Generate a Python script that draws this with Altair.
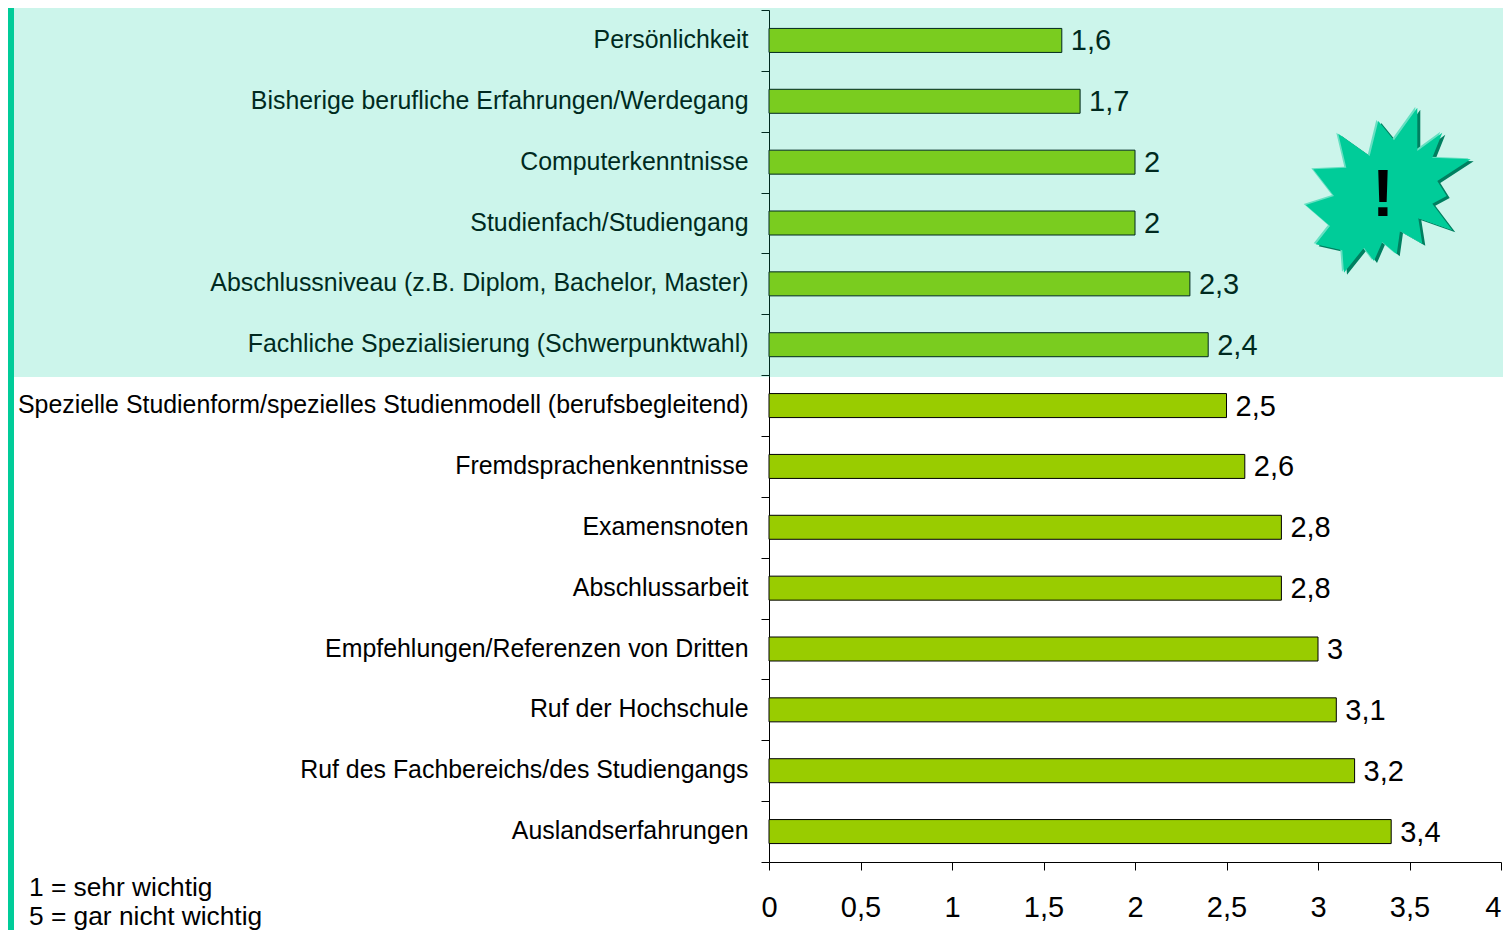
import altair as alt
import pandas as pd

categories = [
    "Persönlichkeit",
    "Bisherige berufliche Erfahrungen/Werdegang",
    "Computerkenntnisse",
    "Studienfach/Studiengang",
    "Abschlussniveau (z.B. Diplom, Bachelor, Master)",
    "Fachliche Spezialisierung (Schwerpunktwahl)",
    "Spezielle Studienform/spezielles Studienmodell (berufsbegleitend)",
    "Fremdsprachenkenntnisse",
    "Examensnoten",
    "Abschlussarbeit",
    "Empfehlungen/Referenzen von Dritten",
    "Ruf der Hochschule",
    "Ruf des Fachbereichs/des Studiengangs",
    "Auslandserfahrungen",
]
values = [1.6, 1.7, 2, 2, 2.3, 2.4, 2.5, 2.6, 2.8, 2.8, 3, 3.1, 3.2, 3.4]
x_ticks = [0, 0.5, 1, 1.5, 2, 2.5, 3, 3.5, 4]
notes = ["1 = sehr wichtig", "5 = gar nicht wichtig"]

FONT = "Liberation Sans"
GREEN = "#99CC00"
TEAL = "#00CC99"

# outline of the decorative star, relative to its centre
star_outline = [
    (178, 128), (272, 195), (298, 90), (345, 148), (415, 50), (415, 180), (490, 125),
    (460, 200), (575, 205), (475, 270), (503, 315), (460, 338), (520, 418), (418, 382),
    (430, 458), (363, 420), (353, 490), (310, 453), (285, 510), (255, 470), (195, 545),
    (190, 478), (110, 460), (153, 405), (80, 342), (165, 315), (103, 235), (202, 230),
]
star_path = "M" + "L".join(
    f"{(a - 330) / 3:.1f},{(b - 300) / 3:.1f}" for a, b in star_outline
) + "Z"

df = pd.DataFrame({
    "cat": categories,
    "val": values,
    "label": [str(v).replace(".", ",") for v in values],
})
one = pd.DataFrame({"a": [0]})

y_enc = alt.Y(
    "cat:N", sort=categories, title=None,
    scale=alt.Scale(paddingInner=0, paddingOuter=0),
    axis=alt.Axis(
        tickBand="extent", tickSize=8, tickColor="#000000", domainColor="#000000",
        labelFont=FONT, labelFontSize=24.9, labelColor="#000000", labelPadding=13,
        labelLimit=800, labelOverlap=False, grid=False,
    ),
)
x_enc = alt.X(
    "val:Q", title=None,
    scale=alt.Scale(domain=[0, 4], nice=False),
    axis=alt.Axis(
        values=x_ticks, tickSize=8, tickColor="#000000", domainColor="#000000",
        labelFont=FONT, labelFontSize=29, labelColor="#000000", labelPadding=23,
        labelFlush=False, labelOverlap=False, grid=False,
        labelAlign={"condition": {"test": "datum.value == 4", "value": "right"}, "value": "center"},
        labelExpr="replace(toString(datum.value), '.', ',')",
    ),
)

bars = alt.Chart(df).mark_bar(size=24, color=GREEN, stroke="#000000", strokeWidth=1).encode(x=x_enc, y=y_enc)
value_labels = alt.Chart(df).mark_text(
    align="left", baseline="middle", dx=9, dy=1, font=FONT, fontSize=29, color="#000000"
).encode(
    x=alt.X("val:Q", scale=alt.Scale(domain=[0, 4], nice=False)),
    y=alt.Y("cat:N", sort=categories),
    text="label:N",
)

overlay = alt.Chart(one).mark_rect(color=TEAL, opacity=0.2).encode(
    x=alt.value(-761), x2=alt.value(734), y=alt.value(-2), y2=alt.value(367)
)
strip = alt.Chart(one).mark_rect(color=TEAL).encode(
    x=alt.value(-761), x2=alt.value(-755), y=alt.value(-2), y2=alt.value(920)
)


def star(color, dx, dy):
    return alt.Chart(one).mark_point(
        shape=star_path, filled=True, fill=color, size=4, opacity=1, strokeWidth=0
    ).encode(x=alt.value(620 + dx), y=alt.value(181 + dy))


star_shadow = star("#007F60", 3, 2)
star_light = star("#66E0C2", -2, -1)
star_main = star(TEAL, 0, 0)
bang = alt.Chart(one).mark_text(
    text="!", font=FONT, fontSize=66, fontWeight="bold", color="#000000",
    align="center", baseline="middle",
).encode(x=alt.value(614), y=alt.value(186))

note1 = alt.Chart(one).mark_text(
    text=notes[0], font=FONT, fontSize=26.3, color="#000000", align="left", baseline="middle"
).encode(x=alt.value(-740), y=alt.value(878))
note2 = alt.Chart(one).mark_text(
    text=notes[1], font=FONT, fontSize=26.3, color="#000000", align="left", baseline="middle"
).encode(x=alt.value(-740), y=alt.value(907))

chart = alt.layer(
    bars, value_labels, overlay, strip, star_shadow, star_light, star_main, bang, note1, note2
).properties(
    width=732,
    height=852,
    autosize=alt.AutoSizeParams(type="none"),
    padding={"left": 761, "top": 2, "right": 2, "bottom": 68},
    background="#FFFFFF",
).configure_view(stroke=None)

chart.save("out.html", embed_options={"renderer": "svg", "actions": False})
